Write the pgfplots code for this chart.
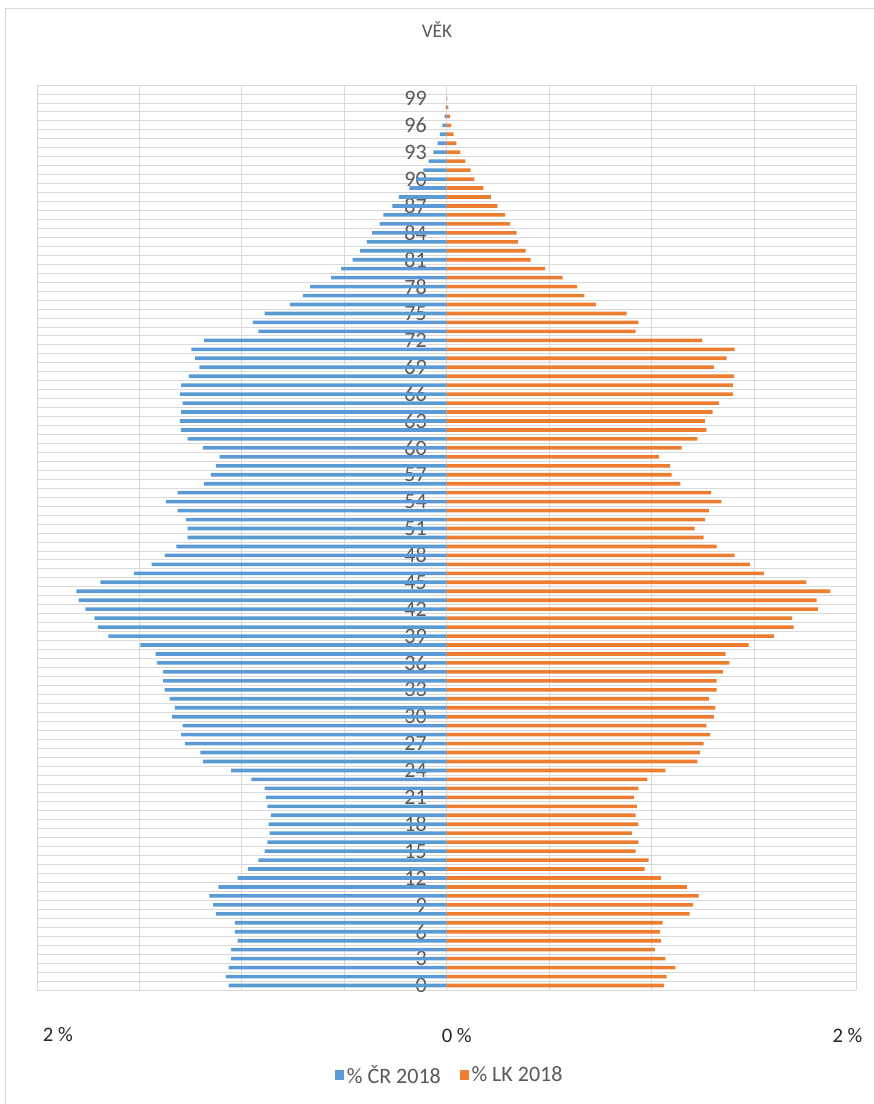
\documentclass[border=0pt]{standalone}
\usepackage{fontspec}
\setmainfont{Carlito}
\usepackage{pgfplots}
\pgfplotsset{compat=1.18}
\usepackage{pgfplotstable}
\definecolor{crblue}{HTML}{5B9BD5}
\definecolor{lkorange}{HTML}{ED7D31}
\definecolor{gridc}{HTML}{D9D9D9}
\definecolor{txt}{HTML}{595959}
\pgfplotstableread{
age cr lk
0 1.065 1.060
1 1.078 1.073
2 1.065 1.116
3 1.052 1.067
4 1.052 1.016
5 1.021 1.047
6 1.034 1.041
7 1.034 1.054
8 1.127 1.185
9 1.140 1.203
10 1.159 1.229
11 1.115 1.172
12 1.021 1.047
13 0.971 0.966
14 0.920 0.985
15 0.889 0.922
16 0.876 0.935
17 0.865 0.904
18 0.870 0.935
19 0.859 0.922
20 0.876 0.928
21 0.883 0.915
22 0.889 0.935
23 0.953 0.979
24 1.052 1.067
25 1.190 1.223
26 1.202 1.236
27 1.278 1.254
28 1.296 1.286
29 1.289 1.267
30 1.340 1.304
31 1.327 1.311
32 1.353 1.280
33 1.377 1.317
34 1.384 1.317
35 1.384 1.348
36 1.415 1.379
37 1.421 1.361
38 1.496 1.473
39 1.652 1.598
40 1.702 1.693
41 1.720 1.686
42 1.764 1.811
43 1.797 1.805
44 1.808 1.873
45 1.691 1.755
46 1.527 1.548
47 1.441 1.480
48 1.377 1.405
49 1.320 1.317
50 1.265 1.254
51 1.265 1.210
52 1.272 1.260
53 1.314 1.280
54 1.371 1.341
55 1.314 1.291
56 1.184 1.141
57 1.151 1.098
58 1.127 1.091
59 1.109 1.036
60 1.190 1.146
61 1.265 1.223
62 1.298 1.267
63 1.302 1.260
64 1.296 1.298
65 1.289 1.328
66 1.302 1.397
67 1.296 1.397
68 1.259 1.403
69 1.208 1.304
70 1.228 1.366
71 1.246 1.405
72 1.184 1.247
73 0.920 0.922
74 0.946 0.935
75 0.889 0.878
76 0.764 0.728
77 0.702 0.672
78 0.667 0.636
79 0.564 0.566
80 0.515 0.480
81 0.459 0.410
82 0.423 0.385
83 0.390 0.348
84 0.364 0.341
85 0.328 0.309
86 0.309 0.285
87 0.265 0.247
88 0.234 0.216
89 0.182 0.179
90 0.148 0.135
91 0.114 0.117
92 0.089 0.091
93 0.065 0.067
94 0.044 0.047
95 0.033 0.034
96 0.021 0.023
97 0.010 0.016
98 0.005 0.008
99 0.002 0.003
}\pyramid
\begin{document}
\begin{tikzpicture}
\begin{axis}[
  at={(27.75pt,85.5pt)}, anchor=south west,
  scale only axis, width=614.6pt, height=678.75pt,
  xmin=-2, xmax=2, ymin=-0.5, ymax=100.5,
  axis line style={draw=none},
  major tick length=0pt, minor tick length=0pt,
  xtick={-1.898,0.049,1.956},
  xticklabels={\raisebox{3pt}{2 \%},0 \%,2 \%},
  minor xtick={-2,-1.5,...,2},
  xminorgrids=true, xmajorgrids=false,
  ytick={0,3,...,99},
  minor ytick={-0.5,0.5,...,100.5},
  yminorgrids=true, ymajorgrids=false,
  minor grid style={draw=gridc, line width=0.6pt},
  xticklabel style={anchor=center, yshift=-34.5pt, font=\fontsize{15.5}{15.5}\selectfont, text=black!85},
  yticklabel style={anchor=east, inner sep=0pt, xshift=292.5pt, font=\fontsize{16.5}{16.5}\selectfont, text=txt},
  /pgf/number format/assume math mode=true,
  legend style={draw=none, fill=none, at={(0.504,-0.094)}, anchor=center, legend columns=2,
    font=\fontsize{16.5}{16.5}\selectfont, text=txt,
    /tikz/every even column/.append style={column sep=12pt}},
  legend image code/.code={\fill[#1] (0pt,-3.5pt) rectangle (7pt,3.5pt);},
  clip=false,
]
\addplot[xbar, bar shift=0pt, bar width=2.7pt, fill=crblue, draw=none]
  table[x expr=-\thisrow{cr}, y=age]{\pyramid};
\addlegendentry{\% ČR 2018}
\addplot[xbar, bar shift=0pt, bar width=2.7pt, fill=lkorange, draw=none]
  table[x=lk, y=age]{\pyramid};
\addlegendentry{\% LK 2018}
\end{axis}
\draw[gridc, line width=0.75pt] (3.75pt,-5pt) -- (3.75pt,821.25pt) -- (660pt,821.25pt);
\node[text=txt, font=\fontsize{14.5}{14.5}\selectfont] at (327.75pt,805.5pt) {VĚK};
\pgfresetboundingbox
\path[use as bounding box] (0,0) rectangle (655.5pt,828pt);
\end{tikzpicture}
\end{document}
